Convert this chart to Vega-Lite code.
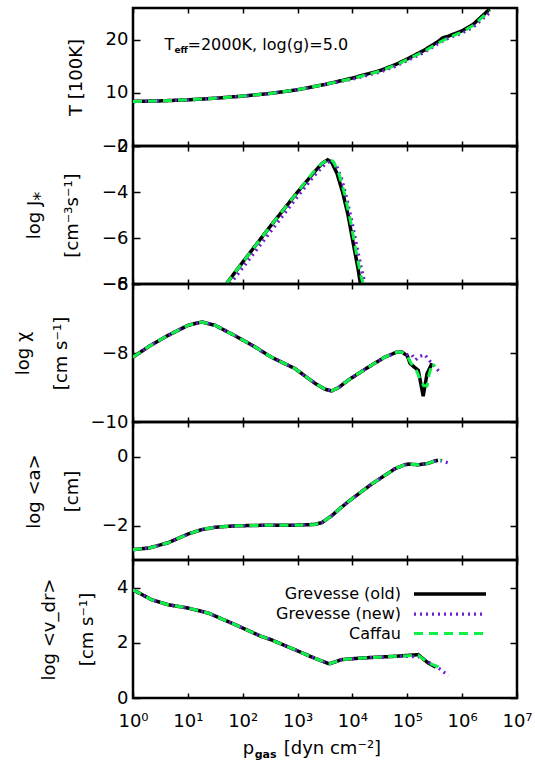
{
"$schema": "https://vega.github.io/schema/vega-lite/v6.json",
"padding": {"left": 12, "top": 5, "right": 0, "bottom": 0},
"spacing": 0,
"bounds": "flush",
"data": {"values": [
{"k":"T","s":["O","N","C"],"p":1,"v":8.4},
{"k":"T","s":["O","N","C"],"p":3.162,"v":8.5},
{"k":"T","s":["O","N","C"],"p":10,"v":8.7},
{"k":"T","s":["O","N","C"],"p":31.62,"v":9.0},
{"k":"T","s":["O","N","C"],"p":100,"v":9.4},
{"k":"T","s":["O","N","C"],"p":316.2,"v":9.9},
{"k":"T","s":["O","N","C"],"p":1000,"v":10.6},
{"k":"T","s":["O","N","C"],"p":3162,"v":11.6},
{"k":"T","s":["O"],"p":10000,"v":12.8},
{"k":"T","s":["O"],"p":31623,"v":14.2},
{"k":"T","s":["O"],"p":63096,"v":15.4},
{"k":"T","s":["O"],"p":100000,"v":16.4},
{"k":"T","s":["O"],"p":199526,"v":18.0},
{"k":"T","s":["O"],"p":354813,"v":19.6},
{"k":"T","s":["O"],"p":446684,"v":20.4},
{"k":"T","s":["O"],"p":562341,"v":20.7},
{"k":"T","s":["O"],"p":1000000,"v":21.7},
{"k":"T","s":["O"],"p":1584893,"v":22.9},
{"k":"T","s":["O"],"p":2630268,"v":25.0},
{"k":"T","s":["O"],"p":3162278,"v":25.8},
{"k":"T","s":["N"],"p":10000,"v":12.6},
{"k":"T","s":["N"],"p":31623,"v":13.9},
{"k":"T","s":["N"],"p":63096,"v":15.1},
{"k":"T","s":["N"],"p":100000,"v":16.1},
{"k":"T","s":["N"],"p":199526,"v":17.6},
{"k":"T","s":["N"],"p":354813,"v":19.2},
{"k":"T","s":["N"],"p":501187,"v":20.1},
{"k":"T","s":["N"],"p":630957,"v":20.5},
{"k":"T","s":["N"],"p":1000000,"v":21.3},
{"k":"T","s":["N"],"p":1584893,"v":22.4},
{"k":"T","s":["N"],"p":3162278,"v":25.1},
{"k":"T","s":["C"],"p":10000,"v":12.7},
{"k":"T","s":["C"],"p":31623,"v":14.1},
{"k":"T","s":["C"],"p":63096,"v":15.3},
{"k":"T","s":["C"],"p":100000,"v":16.3},
{"k":"T","s":["C"],"p":199526,"v":17.8},
{"k":"T","s":["C"],"p":398107,"v":19.6},
{"k":"T","s":["C"],"p":562341,"v":20.4},
{"k":"T","s":["C"],"p":1000000,"v":21.5},
{"k":"T","s":["C"],"p":1584893,"v":22.7},
{"k":"T","s":["C"],"p":2818383,"v":25.0},
{"k":"T","s":["C"],"p":3162278,"v":25.5},

{"k":"J","s":["O"],"p":50.12,"v":-8},
{"k":"J","s":["O"],"p":100,"v":-7.05},
{"k":"J","s":["O"],"p":316.2,"v":-5.5},
{"k":"J","s":["O"],"p":1000,"v":-4.0},
{"k":"J","s":["O"],"p":1995,"v":-3.15},
{"k":"J","s":["O"],"p":2818,"v":-2.75},
{"k":"J","s":["O"],"p":3548,"v":-2.6},
{"k":"J","s":["O"],"p":4169,"v":-2.7},
{"k":"J","s":["O"],"p":5248,"v":-3.2},
{"k":"J","s":["O"],"p":6607,"v":-4.0},
{"k":"J","s":["O"],"p":8318,"v":-5.0},
{"k":"J","s":["O"],"p":10471,"v":-6.3},
{"k":"J","s":["O"],"p":12589,"v":-7.3},
{"k":"J","s":["O"],"p":14454,"v":-8.2},
{"k":"J","s":["N"],"p":58.88,"v":-8},
{"k":"J","s":["N"],"p":100,"v":-7.3},
{"k":"J","s":["N"],"p":316.2,"v":-5.75},
{"k":"J","s":["N"],"p":1000,"v":-4.2},
{"k":"J","s":["N"],"p":1995,"v":-3.3},
{"k":"J","s":["N"],"p":3162,"v":-2.8},
{"k":"J","s":["N"],"p":3981,"v":-2.65},
{"k":"J","s":["N"],"p":5012,"v":-2.8},
{"k":"J","s":["N"],"p":6310,"v":-3.4},
{"k":"J","s":["N"],"p":7943,"v":-4.3},
{"k":"J","s":["N"],"p":10000,"v":-5.4},
{"k":"J","s":["N"],"p":12589,"v":-6.6},
{"k":"J","s":["N"],"p":15136,"v":-7.5},
{"k":"J","s":["N"],"p":17783,"v":-8.2},
{"k":"J","s":["C"],"p":50.12,"v":-8},
{"k":"J","s":["C"],"p":100,"v":-7.05},
{"k":"J","s":["C"],"p":316.2,"v":-5.5},
{"k":"J","s":["C"],"p":1000,"v":-4.0},
{"k":"J","s":["C"],"p":1995,"v":-3.1},
{"k":"J","s":["C"],"p":2818,"v":-2.75},
{"k":"J","s":["C"],"p":3802,"v":-2.55},
{"k":"J","s":["C"],"p":4571,"v":-2.7},
{"k":"J","s":["C"],"p":5754,"v":-3.25},
{"k":"J","s":["C"],"p":7244,"v":-4.1},
{"k":"J","s":["C"],"p":9120,"v":-5.2},
{"k":"J","s":["C"],"p":11482,"v":-6.5},
{"k":"J","s":["C"],"p":14125,"v":-7.6},
{"k":"J","s":["C"],"p":16596,"v":-8.2},

{"k":"X","s":["O","N","C"],"p":1,"v":-8.12},
{"k":"X","s":["O","N","C"],"p":1.995,"v":-7.8},
{"k":"X","s":["O","N","C"],"p":4.365,"v":-7.49},
{"k":"X","s":["O","N","C"],"p":10,"v":-7.2},
{"k":"X","s":["O","N","C"],"p":17.78,"v":-7.1},
{"k":"X","s":["O","N","C"],"p":31.62,"v":-7.2},
{"k":"X","s":["O","N","C"],"p":72.44,"v":-7.5},
{"k":"X","s":["O","N","C"],"p":158.5,"v":-7.8},
{"k":"X","s":["O","N","C"],"p":331.1,"v":-8.12},
{"k":"X","s":["O","N","C"],"p":891.3,"v":-8.45},
{"k":"X","s":["O","N","C"],"p":2042,"v":-8.87},
{"k":"X","s":["O","N","C"],"p":3162,"v":-9.05},
{"k":"X","s":["O","N","C"],"p":4169,"v":-9.1},
{"k":"X","s":["O","N","C"],"p":5623,"v":-9.0},
{"k":"X","s":["O","N","C"],"p":8318,"v":-8.79},
{"k":"X","s":["O","N","C"],"p":19498,"v":-8.41},
{"k":"X","s":["O","N","C"],"p":38905,"v":-8.12},
{"k":"X","s":["O","N","C"],"p":63096,"v":-7.98},
{"k":"X","s":["O","N","C"],"p":79433,"v":-7.97},
{"k":"X","s":["O"],"p":100000,"v":-8.08},
{"k":"X","s":["O"],"p":112202,"v":-8.3},
{"k":"X","s":["O"],"p":131826,"v":-8.4},
{"k":"X","s":["O"],"p":158489,"v":-8.5},
{"k":"X","s":["O"],"p":194984,"v":-9.25},
{"k":"X","s":["O"],"p":229087,"v":-8.6},
{"k":"X","s":["O"],"p":281838,"v":-8.3},
{"k":"X","s":["N"],"p":100000,"v":-8.05},
{"k":"X","s":["N"],"p":120226,"v":-8.05},
{"k":"X","s":["N"],"p":141254,"v":-8.2},
{"k":"X","s":["N"],"p":165959,"v":-8.1},
{"k":"X","s":["N"],"p":208930,"v":-8.05},
{"k":"X","s":["N"],"p":263027,"v":-8.25},
{"k":"X","s":["N"],"p":316228,"v":-8.4},
{"k":"X","s":["N"],"p":389045,"v":-8.55},
{"k":"X","s":["C"],"p":100000,"v":-8.1},
{"k":"X","s":["C"],"p":117490,"v":-8.3},
{"k":"X","s":["C"],"p":141254,"v":-8.45},
{"k":"X","s":["C"],"p":165959,"v":-8.7},
{"k":"X","s":["C"],"p":199526,"v":-8.95},
{"k":"X","s":["C"],"p":229087,"v":-8.95},
{"k":"X","s":["C"],"p":251189,"v":-8.6},
{"k":"X","s":["C"],"p":288403,"v":-8.3},
{"k":"X","s":["C"],"p":316228,"v":-8.4},

{"k":"A","s":["O","N","C"],"p":1,"v":-2.70},
{"k":"A","s":["O","N","C"],"p":1.995,"v":-2.65},
{"k":"A","s":["O","N","C"],"p":4.365,"v":-2.50},
{"k":"A","s":["O","N","C"],"p":10,"v":-2.25},
{"k":"A","s":["O","N","C"],"p":17.78,"v":-2.12},
{"k":"A","s":["O","N","C"],"p":31.62,"v":-2.05},
{"k":"A","s":["O","N","C"],"p":72.44,"v":-2.01},
{"k":"A","s":["O","N","C"],"p":316.2,"v":-1.99},
{"k":"A","s":["O","N","C"],"p":1000,"v":-1.99},
{"k":"A","s":["O","N","C"],"p":1995,"v":-1.97},
{"k":"A","s":["O","N","C"],"p":2754,"v":-1.92},
{"k":"A","s":["O","N","C"],"p":4169,"v":-1.72},
{"k":"A","s":["O","N","C"],"p":6310,"v":-1.47},
{"k":"A","s":["O","N","C"],"p":9550,"v":-1.24},
{"k":"A","s":["O","N","C"],"p":22387,"v":-0.80},
{"k":"A","s":["O","N","C"],"p":58884,"v":-0.36},
{"k":"A","s":["O","N","C"],"p":89125,"v":-0.24},
{"k":"A","s":["O","N","C"],"p":104713,"v":-0.22},
{"k":"A","s":["O","N","C"],"p":158489,"v":-0.24},
{"k":"A","s":["O","N","C"],"p":239883,"v":-0.2},
{"k":"A","s":["O"],"p":316228,"v":-0.13},
{"k":"A","s":["O"],"p":363078,"v":-0.11},
{"k":"A","s":["N"],"p":316228,"v":-0.14},
{"k":"A","s":["N"],"p":416869,"v":-0.12},
{"k":"A","s":["N"],"p":562341,"v":-0.19},
{"k":"A","s":["C"],"p":316228,"v":-0.13},
{"k":"A","s":["C"],"p":416869,"v":-0.1},

{"k":"V","s":["O","N","C"],"p":1,"v":3.92},
{"k":"V","s":["O","N","C"],"p":2.188,"v":3.56},
{"k":"V","s":["O","N","C"],"p":4.365,"v":3.38},
{"k":"V","s":["O","N","C"],"p":10,"v":3.26},
{"k":"V","s":["O","N","C"],"p":23.44,"v":3.08},
{"k":"V","s":["O","N","C"],"p":72.44,"v":2.66},
{"k":"V","s":["O","N","C"],"p":218.8,"v":2.23},
{"k":"V","s":["O","N","C"],"p":331.1,"v":2.11},
{"k":"V","s":["O","N","C"],"p":891.3,"v":1.75},
{"k":"V","s":["O","N","C"],"p":1995,"v":1.45},
{"k":"V","s":["O","N","C"],"p":3631,"v":1.25},
{"k":"V","s":["O","N","C"],"p":3981,"v":1.25},
{"k":"V","s":["O","N","C"],"p":6310,"v":1.39},
{"k":"V","s":["O","N","C"],"p":14791,"v":1.45},
{"k":"V","s":["O","N","C"],"p":58884,"v":1.51},
{"k":"V","s":["O"],"p":158489,"v":1.57},
{"k":"V","s":["O"],"p":239883,"v":1.27},
{"k":"V","s":["O"],"p":331131,"v":1.12},
{"k":"V","s":["N"],"p":158489,"v":1.5},
{"k":"V","s":["N"],"p":239883,"v":1.3},
{"k":"V","s":["N"],"p":363078,"v":1.1},
{"k":"V","s":["N"],"p":562341,"v":0.81},
{"k":"V","s":["C"],"p":158489,"v":1.55},
{"k":"V","s":["C"],"p":239883,"v":1.27},
{"k":"V","s":["C"],"p":398107,"v":1.1}
]},
"vconcat": [
{
 "width": 384, "height": 138,
 "layer": [
  {"transform": [{"filter": "datum.k==='T'"}, {"flatten": ["s"]}],
   "mark": {"type": "line", "clip": true},
   "encoding": {
    "x": {"field": "p", "type": "quantitative", "scale": {"type": "log", "domain": [1, 10000000]}, "axis": {"orient": "bottom", "values": [1,10,100,1000,10000,100000,1000000,10000000], "labels": false, "title": null}},
    "y": {"field": "v", "type": "quantitative", "scale": {"domain": [0, 25]}, "axis": {"orient": "left", "values": [0,10,20], "title": "T  [100K]"}},
    "color": {"field": "s", "type": "nominal", "scale": {"domain": ["O","N","C"], "range": ["#000000","#6a1fd0","#11f04a"]}, "legend": null},
    "strokeDash": {"field": "s", "type": "nominal", "scale": {"domain": ["O","N","C"], "range": [[1,0],[2,4],[9,6]]}, "legend": null},
    "strokeWidth": {"field": "s", "type": "nominal", "scale": {"domain": ["O","N","C"], "range": [3.5,3,5]}, "legend": null}
   }},
  {"transform": [{"filter": "datum.k==='T'"}],
   "mark": {"type": "point", "opacity": 0},
   "encoding": {
    "x": {"field": "p", "type": "quantitative", "axis": {"orient": "top", "values": [1,10,100,1000,10000,100000,1000000,10000000], "labels": false, "title": null}},
    "y": {"field": "v", "type": "quantitative", "axis": {"orient": "right", "values": [0,10,20], "labels": false, "title": null}}
   }},
  {"data": {"values": [{}]},
   "mark": {"type": "text", "text": "T", "align": "left", "baseline": "alphabetic", "font": "DejaVu Sans", "fontSize": 16},
   "encoding": {"x": {"datum": 3.75, "type": "quantitative", "axis": null}, "y": {"datum": 18, "type": "quantitative", "axis": null}}},
  {"data": {"values": [{}]},
   "mark": {"type": "text", "text": "eff", "align": "left", "baseline": "alphabetic", "font": "DejaVu Sans", "fontSize": 9, "fontWeight": "bold", "dx": 10, "dy": 3},
   "encoding": {"x": {"datum": 3.75, "type": "quantitative", "axis": null}, "y": {"datum": 18, "type": "quantitative", "axis": null}}},
  {"data": {"values": [{}]},
   "mark": {"type": "text", "text": "=2000K,  log(g)=5.0", "align": "left", "baseline": "alphabetic", "font": "DejaVu Sans", "fontSize": 16, "dx": 23},
   "encoding": {"x": {"datum": 3.75, "type": "quantitative", "axis": null}, "y": {"datum": 18, "type": "quantitative", "axis": null}}}
 ],
 "resolve": {"axis": {"x": "independent", "y": "independent"}}
},
{
 "width": 384, "height": 138,
 "layer": [
  {"transform": [{"filter": "datum.k==='J'"}, {"flatten": ["s"]}],
   "mark": {"type": "line", "clip": true},
   "encoding": {
    "x": {"field": "p", "type": "quantitative", "scale": {"type": "log", "domain": [1, 10000000]}, "axis": {"orient": "bottom", "values": [1,10,100,1000,10000,100000,1000000,10000000], "labels": false, "title": null}},
    "y": {"field": "v", "type": "quantitative", "scale": {"domain": [-8, -2]}, "axis": {"orient": "left", "values": [-8,-6,-4,-2], "title": ["log J⁎", "[cm⁻³s⁻¹]"]}},
    "color": {"field": "s", "type": "nominal", "scale": {"domain": ["O","N","C"], "range": ["#000000","#6a1fd0","#11f04a"]}, "legend": null},
    "strokeDash": {"field": "s", "type": "nominal", "scale": {"domain": ["O","N","C"], "range": [[1,0],[2,4],[9,6]]}, "legend": null},
    "strokeWidth": {"field": "s", "type": "nominal", "scale": {"domain": ["O","N","C"], "range": [3.5,3,5]}, "legend": null}
   }},
  {"transform": [{"filter": "datum.k==='J'"}],
   "mark": {"type": "point", "opacity": 0},
   "encoding": {
    "x": {"field": "p", "type": "quantitative", "axis": {"orient": "top", "values": [1,10,100,1000,10000,100000,1000000,10000000], "labels": false, "title": null}},
    "y": {"field": "v", "type": "quantitative", "axis": {"orient": "right", "values": [-8,-6,-4,-2], "labels": false, "title": null}}
   }}
 ],
 "resolve": {"axis": {"x": "independent", "y": "independent"}}
},
{
 "width": 384, "height": 138,
 "layer": [
  {"transform": [{"filter": "datum.k==='X'"}, {"flatten": ["s"]}],
   "mark": {"type": "line", "clip": true},
   "encoding": {
    "x": {"field": "p", "type": "quantitative", "scale": {"type": "log", "domain": [1, 10000000]}, "axis": {"orient": "bottom", "values": [1,10,100,1000,10000,100000,1000000,10000000], "labels": false, "title": null}},
    "y": {"field": "v", "type": "quantitative", "scale": {"domain": [-10, -6]}, "axis": {"orient": "left", "values": [-10,-8,-6], "title": ["log χ", "[cm s⁻¹]"]}},
    "color": {"field": "s", "type": "nominal", "scale": {"domain": ["O","N","C"], "range": ["#000000","#6a1fd0","#11f04a"]}, "legend": null},
    "strokeDash": {"field": "s", "type": "nominal", "scale": {"domain": ["O","N","C"], "range": [[1,0],[2,4],[9,6]]}, "legend": null},
    "strokeWidth": {"field": "s", "type": "nominal", "scale": {"domain": ["O","N","C"], "range": [3.5,3,5]}, "legend": null}
   }},
  {"transform": [{"filter": "datum.k==='X'"}],
   "mark": {"type": "point", "opacity": 0},
   "encoding": {
    "x": {"field": "p", "type": "quantitative", "axis": {"orient": "top", "values": [1,10,100,1000,10000,100000,1000000,10000000], "labels": false, "title": null}},
    "y": {"field": "v", "type": "quantitative", "axis": {"orient": "right", "values": [-10,-8,-6], "labels": false, "title": null}}
   }}
 ],
 "resolve": {"axis": {"x": "independent", "y": "independent"}}
},
{
 "width": 384, "height": 138,
 "layer": [
  {"transform": [{"filter": "datum.k==='A'"}, {"flatten": ["s"]}],
   "mark": {"type": "line", "clip": true},
   "encoding": {
    "x": {"field": "p", "type": "quantitative", "scale": {"type": "log", "domain": [1, 10000000]}, "axis": {"orient": "bottom", "values": [1,10,100,1000,10000,100000,1000000,10000000], "labels": false, "title": null}},
    "y": {"field": "v", "type": "quantitative", "scale": {"domain": [-3, 1]}, "axis": {"orient": "left", "values": [-2,0], "title": ["log <a>", "[cm]"]}},
    "color": {"field": "s", "type": "nominal", "scale": {"domain": ["O","N","C"], "range": ["#000000","#6a1fd0","#11f04a"]}, "legend": null},
    "strokeDash": {"field": "s", "type": "nominal", "scale": {"domain": ["O","N","C"], "range": [[1,0],[2,4],[9,6]]}, "legend": null},
    "strokeWidth": {"field": "s", "type": "nominal", "scale": {"domain": ["O","N","C"], "range": [3.5,3,5]}, "legend": null}
   }},
  {"transform": [{"filter": "datum.k==='A'"}],
   "mark": {"type": "point", "opacity": 0},
   "encoding": {
    "x": {"field": "p", "type": "quantitative", "axis": {"orient": "top", "values": [1,10,100,1000,10000,100000,1000000,10000000], "labels": false, "title": null}},
    "y": {"field": "v", "type": "quantitative", "axis": {"orient": "right", "values": [-2,0], "labels": false, "title": null}}
   }}
 ],
 "resolve": {"axis": {"x": "independent", "y": "independent"}}
},
{
 "width": 384, "height": 138,
 "layer": [
  {"transform": [{"filter": "datum.k==='V'"}, {"flatten": ["s"]}],
   "mark": {"type": "line", "clip": true},
   "encoding": {
    "x": {"field": "p", "type": "quantitative", "scale": {"type": "log", "domain": [1, 10000000]}, "axis": {"orient": "bottom", "values": [1,10,100,1000,10000,100000,1000000,10000000], "labels": true, "title": null, "labelExpr": "'10' + ['⁰','¹','²','³','⁴','⁵','⁶','⁷'][round(log(datum.value)/LN10)]"}},
    "y": {"field": "v", "type": "quantitative", "scale": {"domain": [0, 5]}, "axis": {"orient": "left", "values": [0,2,4], "title": ["log <v_dr>", "[cm s⁻¹]"]}},
    "color": {"field": "s", "type": "nominal", "scale": {"domain": ["O","N","C"], "range": ["#000000","#6a1fd0","#11f04a"]}, "legend": {"orient": "none", "legendX": 306, "legendY": 23, "title": null, "labelExpr": "datum.label==='O' ? 'Grevesse (old)' : datum.label==='N' ? 'Grevesse (new)' : 'Caffau'"}},
    "strokeDash": {"field": "s", "type": "nominal", "scale": {"domain": ["O","N","C"], "range": [[1,0],[2,4],[9,6]]}, "legend": {"orient": "none", "legendX": 306, "legendY": 23, "title": null, "labelExpr": "datum.label==='O' ? 'Grevesse (old)' : datum.label==='N' ? 'Grevesse (new)' : 'Caffau'"}},
    "strokeWidth": {"field": "s", "type": "nominal", "scale": {"domain": ["O","N","C"], "range": [3.5,3,5]}, "legend": {"orient": "none", "legendX": 306, "legendY": 23, "title": null, "labelExpr": "datum.label==='O' ? 'Grevesse (old)' : datum.label==='N' ? 'Grevesse (new)' : 'Caffau'"}}
   }},
  {"transform": [{"filter": "datum.k==='V'"}],
   "mark": {"type": "point", "opacity": 0},
   "encoding": {
    "x": {"field": "p", "type": "quantitative", "axis": {"orient": "top", "values": [1,10,100,1000,10000,100000,1000000,10000000], "labels": false, "title": null}},
    "y": {"field": "v", "type": "quantitative", "axis": {"orient": "right", "values": [0,2,4], "labels": false, "title": null}}
   }},
  {"data": {"values": [{}]},
   "mark": {"type": "text", "text": "p", "align": "left", "baseline": "alphabetic", "font": "DejaVu Sans", "fontSize": 18},
   "encoding": {"x": {"datum": 100, "type": "quantitative", "axis": null}, "y": {"datum": -2.03, "type": "quantitative", "axis": null}}},
  {"data": {"values": [{}]},
   "mark": {"type": "text", "text": "gas", "align": "left", "baseline": "alphabetic", "font": "DejaVu Sans", "fontSize": 11, "fontWeight": "bold", "dx": 12, "dy": 4},
   "encoding": {"x": {"datum": 100, "type": "quantitative", "axis": null}, "y": {"datum": -2.03, "type": "quantitative", "axis": null}}},
  {"data": {"values": [{}]},
   "mark": {"type": "text", "text": "[dyn cm⁻²]", "align": "left", "baseline": "alphabetic", "font": "DejaVu Sans", "fontSize": 18, "dx": 41},
   "encoding": {"x": {"datum": 100, "type": "quantitative", "axis": null}, "y": {"datum": -2.03, "type": "quantitative", "axis": null}}}
 ],
 "resolve": {"axis": {"x": "independent", "y": "independent"}}
}
],
"resolve": {
 "scale": {"color": "independent", "strokeDash": "independent", "strokeWidth": "independent"},
 "legend": {"color": "independent", "strokeDash": "independent", "strokeWidth": "independent"}
},
"config": {
 "view": {"stroke": "#000000", "strokeWidth": 2.5},
 "font": "DejaVu Sans",
 "axis": {"domain": false, "grid": false, "labelFont": "DejaVu Sans", "labelFontSize": 18, "labelColor": "#000000", "titleFont": "DejaVu Sans", "titleFontSize": 18, "titleFontWeight": "normal", "titleColor": "#000000", "tickColor": "#000000", "tickWidth": 1.5},
 "axisX": {"tickSize": -5, "labelPadding": 19, "labelFlush": false},
 "axisY": {"tickSize": -7, "labelPadding": 12, "titlePadding": 20, "titleLineHeight": 38},
 "legend": {"padding": 0, "symbolType": "M-4,0H4", "symbolSize": 324, "rowPadding": 1, "labelAlign": "right", "labelOffset": -60, "labelFont": "DejaVu Sans", "labelFontSize": 16, "labelColor": "#000000", "labelLimit": 300}
}
}
